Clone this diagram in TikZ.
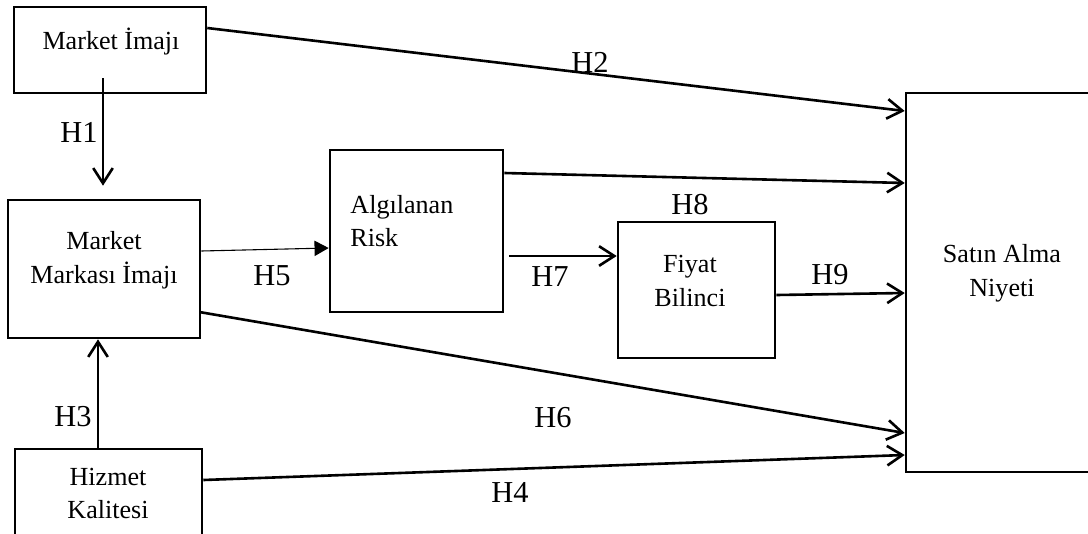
\documentclass[tikz,border=0pt]{standalone}
\usepackage{fontspec}
\setmainfont{Liberation Serif}
\usepackage{tikz}
\usetikzlibrary{positioning,arrows.meta,calc}
\tikzset{>={Straight Barb[length=7pt,width=9pt]}}

\begin{document}
\begin{tikzpicture}[
x=0.46pt, y=-0.46pt,
box/.style={rectangle, draw, line width=1.2pt, inner sep=0pt},
boxtext/.style={align=center, inner sep=0pt, font=\fontsize{12}{15.5}\selectfont},
hlab/.style={inner sep=0pt, font=\fontsize{14}{16}\selectfont},
link/.style={->, line width=1.2pt}
]
\useasboundingbox (0,0) rectangle (1088,533);

% boxes
\node (marketimg) [box, minimum width=88.3pt, minimum height=39.6pt] at (110,50) {};
\node (brandimg) [box, minimum width=88.3pt, minimum height=63.5pt] at (104,269) {};
\node (service) [box, minimum width=86pt, minimum height=51pt] at (108.5,504.5) {};
\node (risk) [box, minimum width=79.6pt, minimum height=74.5pt] at (416.5,231) {};
\node (price) [box, minimum width=72.2pt, minimum height=62.6pt] at (696.5,290) {};
\node (intent) [box, minimum width=93.8pt, minimum height=174.3pt] at (1008,282.5) {};

% box texts
\node (marketimgtext) [boxtext] at (111,42) {Market İmajı};
\node (brandimgtext) [boxtext] at (104,260) {Market\\Markası İmajı};
\node (servicetext) [boxtext] at (108,493.5) {Hizmet\\Kalitesi};
\node (risktext) [boxtext, align=left, anchor=west] at (350,221) {Algılanan\\Risk};
\node (pricetext) [boxtext] at (690,281) {Fiyat\\Bilinci};
\node (intenttext) [boxtext] at (1002,273) {Satın Alma\\Niyeti};

% connectors
\draw [link] ($(marketimg.south)+(-7,-16)$) -- ($(brandimg.north)+(-1,-13)$);
\draw [link] ($(marketimg.east)+(0,-22)$) -- ($(intent.west)+(0,-171.5)$);
\draw [->, line width=0.5pt, >={Triangle[length=6.5pt,width=7pt]}] ($(brandimg.east)+(0,-18)$) -- ($(risk.west)+(0,17)$);
\draw [link] ($(brandimg.east)+(-2,43)$) -- ($(intent.west)+(0,150.5)$);
\draw [link] ($(service.north)+(-10.5,0)$) -- ($(brandimg.south)+(-6,0)$);
\draw [link] ($(service.east)+(0,-24.5)$) -- ($(intent.west)+(0,172.5)$);
\draw [link] ($(risk.east)+(0,-58)$) -- ($(intent.west)+(0,-99.5)$);
\draw [link] ($(risk.east)+(5,25)$) -- ($(price.west)+(0,-34)$);
\draw [link] ($(price.east)+(0,5)$) -- ($(intent.west)+(0,10.5)$);

% hypothesis labels
\node (h1) [hlab] at (79,132) {H1};
\node (h2) [hlab] at (590,62) {H2};
\node (h3) [hlab] at (73,417) {H3};
\node (h4) [hlab] at (510,492) {H4};
\node (h5) [hlab] at (272,276) {H5};
\node (h6) [hlab] at (553,418) {H6};
\node (h7) [hlab] at (550,277) {H7};
\node (h8) [hlab] at (690,205) {H8};
\node (h9) [hlab] at (830,275) {H9};
\end{tikzpicture}
\end{document}
